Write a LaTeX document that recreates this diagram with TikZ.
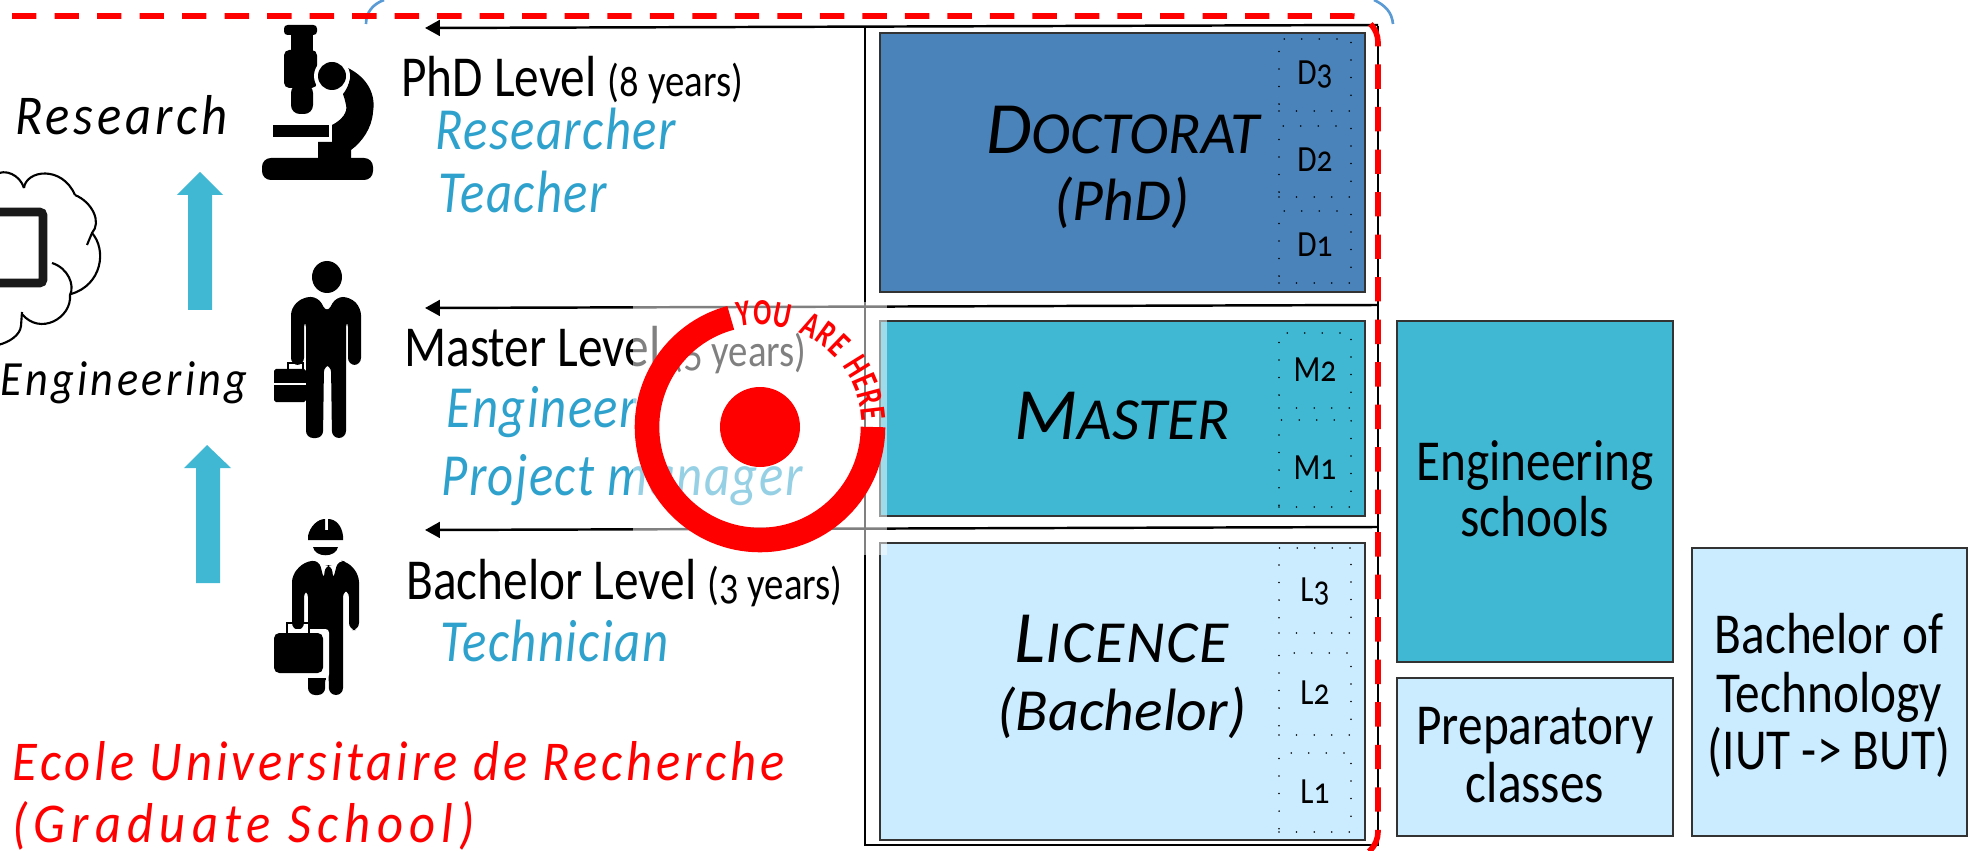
\documentclass[tikz,border=0pt]{standalone}
\usepackage{fontspec}
\setmainfont{Carlito}[Numbers=OldStyle,FakeStretch=0.85]
\newfontfamily\spacedfont{Carlito}[LetterSpace=7,FakeStretch=0.9]
\newfontfamily\jobfont{Carlito}[LetterSpace=2.5,FakeStretch=0.85]
\newfontfamily\titlefont{Carlito}[FakeStretch=1]
\newfontfamily\herefont{Carlito}[FakeStretch=0.72,LetterSpace=7]
\usetikzlibrary{arrows.meta,decorations.text,fit}
\definecolor{phdblue}{HTML}{4A82BA}
\definecolor{masterblue}{HTML}{40B8D4}
\definecolor{licenceblue}{HTML}{CBECFF}
\definecolor{jobblue}{HTML}{2EA2CC}
\definecolor{cornerblue}{HTML}{5B9BD5}
\tikzset{
  yearbox/.style={draw=black!80,line width=1.4pt,inner sep=0pt},
  slotbox/.style={draw=black,line width=1pt,line cap=round,dash pattern=on 0pt off 10pt,inner sep=0pt},
  leveltext/.style={anchor=base west,inner sep=0pt,yshift=-1.7pt,font=\fontsize{33}{36}\selectfont},
  jobtext/.style={anchor=base west,inner sep=0pt,yshift=-1.7pt,text=jobblue,font=\fontsize{34}{38}\jobfont\itshape},
  fieldtext/.style={anchor=base west,inner sep=0pt,yshift=-1.7pt,font=\fontsize{32}{36}\spacedfont\itshape},
  schooltext/.style={anchor=base,inner sep=0pt,yshift=-1.7pt,font=\fontsize{33}{36}\selectfont},
  titletext/.style={anchor=base,inner sep=0pt,yshift=-1.7pt,font=\fontsize{34}{38}\titlefont\itshape},
  slottext/.style={inner sep=0pt,font=\fontsize{21}{24}\selectfont},
  levelarrow/.style={line width=1.4pt,-{Stealth[length=8.5pt,width=9pt,inset=0pt]}},
}
\newcommand{\yrs}[1]{{\fontsize{26}{28}\selectfont(#1 years)}}
\newcommand{\initial}[1]{{\fontsize{42}{46}\selectfont #1}}
\begin{document}
\begin{tikzpicture}[x=0.02cm,y=-0.02cm]
\useasboundingbox (0,0) rectangle (1972,851);
\clip (0,0) rectangle (1972,851);
%corners of the frame behind
\draw[cornerblue,line width=1.5pt](366,24)to[out=90,in=200](384,0);
\draw[cornerblue,line width=1.5pt](1374,0)to[out=-25,in=95](1393,24);
%cloud
\draw[line width=1.2pt](-5,175)..controls(5,168)and(20,175)..(24,188);
\draw[line width=1.2pt](24,188)..controls(26,170)and(62,165)..(75,195);
\draw[line width=1.2pt](75,195)..controls(92,202)and(102,222)..(92,233)--(87,245);
\draw[line width=1.2pt](92,233)..controls(107,250)and(102,285)..(71,294);
\draw[line width=1.2pt](52,263)..controls(68,268)and(75,285)..(70,295)..controls(72,318)and(40,336)..(22,314);
\draw[line width=1.2pt](22,312)--(21,326)..controls(20,335)and(10,342)..(-2,345);
\draw[line width=5pt,rounded corners=2,black!90](-20,212)rectangle(43,283);
%microscope
\fill[rounded corners=2](284,25)rectangle(317,35);
\fill(291,33)rectangle(313,52);
\fill[rounded corners=3](284,50)rectangle(317,88);
\fill[rounded corners=5](291,84)rectangle(313,114);
\fill(273,125)rectangle(329,137);
\fill(348,68)..controls(368,78)and(376,95)..(373,112)..controls(372,128)and(362,142)..(351,150)--(351,160)--(318,160)--(318,142)--(332,142)--(332,125)..controls(342,120)and(348,112)..(346,105)..controls(345,100)and(344,97)..(343,94)..controls(348,88)and(352,78)..cycle;
\fill[white](332,76)ellipse[x radius=18,y radius=18];
\fill(332,76)ellipse[x radius=14,y radius=14];
\fill[rounded corners=5](262,180)--(262,158)--(373,158)--(373,180)--cycle;
%man in a suit
\fill(327,277)ellipse[x radius=15,y radius=16];
\fill[rounded corners=4](291,365)--(291,308)--(303,297)--(318,297)--(327,313)--(336,297)--(350,297)--(361,308)--(361,365)--(348,365)--(348,320)--(346,320)--(346,438)--(332,438)--(331,365)--(324,365)--(323,438)--(306,438)--(306,320)--(304,320)--(304,365)--cycle;
\fill[rounded corners=1](274,369)rectangle(306,402);
\draw[line width=1.4pt](288,369)--(288,363)--(303,363)--(303,369);
\fill[white](274,383)rectangle(306,385);
%man with a helmet
\fill(308,540)--(308,536)..controls(310,526)and(318,519)..(325,519)--(325,530)--(328,530)--(328,519)..controls(336,519)and(342,526)..(343,536)--(343,540)--cycle;
\fill(313,547)--(338,547)..controls(336,558)and(315,558)..(313,547)--cycle;
\fill[rounded corners=4](292,630)--(292,575)--(304,562)--(319,560)--(324,580)--(325,565)--(332,565)--(333,580)--(338,560)--(348,562)--(359,575)--(359,630)--(349,630)--(349,590)--(343,590)--(343,695)--(329,695)--(328,640)--(326,640)--(325,695)--(308,695)--(308,590)--(304,590)--(304,630)--cycle;
\fill[white,rounded corners=2](270,629)rectangle(329,678);
\fill[rounded corners=3](274,633)rectangle(323,673);
\draw[line width=1.6pt](287,633)--(287,623)--(309,623)--(309,633);
\fill(308,678)rectangle(326,680);
%blue arrows
\fill[masterblue](188,310)--(188,195)--(177,195)--(200,172)--(223,195)--(212,195)--(212,310)--cycle;
\fill[masterblue](196,583)--(196,468)--(184,468)--(207,445)--(231,468)--(220,468)--(220,583)--cycle;
%left texts
\node[fieldtext] (research) at (15,132) {Research};
\node[fieldtext,font=\fontsize{28}{32}\spacedfont\itshape] (engineering) at (0,393) {Engineering};
\node[leveltext] (phd) at (401,94) {PhD Level \yrs{8}};
\node[jobtext] (researcher) at (435,147) {Researcher};
\node[jobtext] (teacher) at (438,210) {Teacher};
\node[leveltext] (master) at (404,364) {Master Level \yrs{5}};
\node[jobtext] (engineer) at (446,425) {Engineer};
\node[jobtext] (manager) at (441,493) {Project manager};
\node[leveltext] (bachelor) at (406,597) {Bachelor Level \yrs{3}};
\node[jobtext] (technician) at (440,659) {Technician};
\node[fieldtext,text=red] (ecole) at (12,778) {Ecole Universitaire de Recherche};
\node[fieldtext,text=red] (graduate) at (12,840) {\addfontfeature{LetterSpace=11}(Graduate School)};
%degree boxes
\draw[line width=1pt](865,26)--(865,845)--(1378,845)--(1378,26);
\node[yearbox,fill=phdblue,fit={(880,33)(1365,292)}] (doctorat) {};
\node[yearbox,fill=masterblue,fit={(880,321)(1365,516)}] (mastr) {};
\node[yearbox,fill=licenceblue,fit={(880,543)(1365,840)}] (licence) {};
\node[yearbox,fill=masterblue,fit={(1397,321)(1673,662)}] (engschool) {};
\node[yearbox,fill=licenceblue,fit={(1397,678)(1673,836)}] (prepa) {};
\node[yearbox,fill=licenceblue,fit={(1692,548)(1967,836)}] (iut) {};
%dotted years
\foreach \nm/\ya/\yb/\yc in {D3/39/111/75,D2/126/197/160,D1/211/283/245,M2/333/408/370,M1/420/507/468,L3/548/633/592,L2/653/735/693,L1/753/832/792}{
  \node[slotbox,fit={(1279,\ya)(1351,\yb)}] (box\nm) {};
  \node[slottext] (lab\nm) at (1315,\yc) {\nm};
}
\node[titletext] (doctoratname) at (1123,151) {\initial{D}OCTORAT};
\node[titletext] (phdname) at (1122,218) {(PhD)};
\node[titletext] (mastername) at (1122,437) {\initial{M}ASTER};
\node[titletext] (licencename) at (1122,660) {\addfontfeature{LetterSpace=3}\initial{L}ICENCE};
\node[titletext] (bachelorname) at (1122,728) {(Bachelor)};
\node[schooltext] (eng1) at (1535,478) {Engineering};
\node[schooltext] (eng2) at (1535,534) {schools};
\node[schooltext] (pre1) at (1535,742) {Preparatory};
\node[schooltext] (pre2) at (1535,800) {classes};
\node[schooltext] (iut1) at (1829,651) {Bachelor of};
\node[schooltext] (iut2) at (1829,710) {Technology};
\node[schooltext] (iut3) at (1829,767) {(IUT -> BUT)};
%level arrows
\coordinate (phdend) at (1378,25);
\coordinate (phdtip) at (425,28);
\coordinate (masterend) at (1378,305);
\coordinate (mastertip) at (425,308);
\coordinate (bachelorend) at (1378,527);
\coordinate (bachelortip) at (425,530);
\draw[levelarrow](phdend)--(phdtip);
\draw[levelarrow](masterend)--(mastertip);
\draw[levelarrow](bachelorend)--(bachelortip);
%you are here
\fill[white,opacity=0.5](633,302)rectangle(887,555);
\coordinate (here) at (760,427);
\draw[red,line width=14pt](here)++(0:113)arc(0:255:113);
\fill[red](here)circle(40);
\path[decorate,decoration={text along path,text color=red,text={|\fontsize{21}{23}\herefont\bfseries|YOU ARE HERE},text align={fit to path}}](here)++(-102:102)arc(-102:-3:102);
%graduate school limit
\draw[red,line width=3.2pt,dash pattern=on 13.9pt off 10.3pt,rounded corners=15pt](12,16)--(1378,16)--(1378,858)--(1330,858);
\end{tikzpicture}
\end{document}
